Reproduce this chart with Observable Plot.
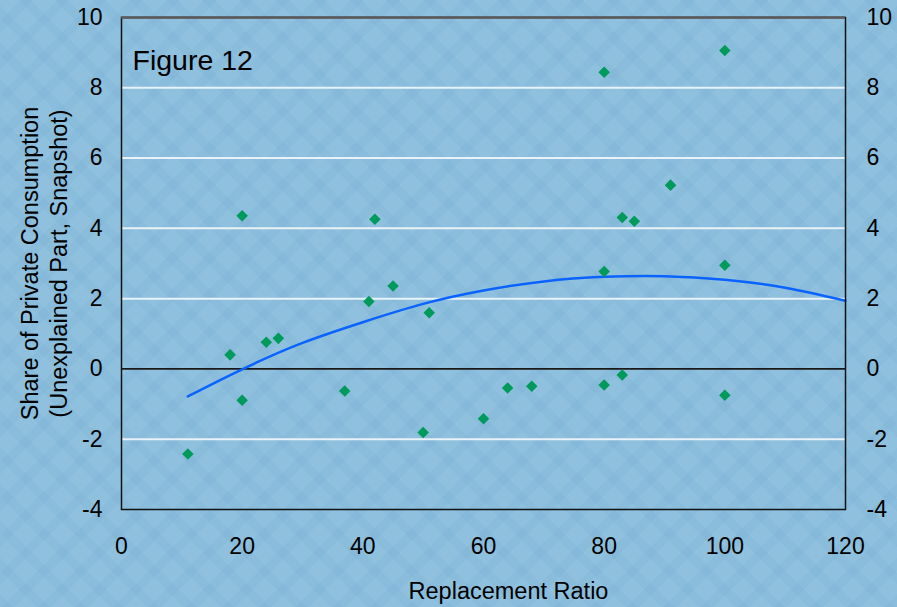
<!DOCTYPE html>
<html><head><meta charset="utf-8">
<script src="https://cdn.jsdelivr.net/npm/d3@7"></script>
<script src="https://cdn.jsdelivr.net/npm/@observablehq/plot@0.6"></script>
<style>
html,body{margin:0;padding:0;}
body{width:897px;height:607px;overflow:hidden;background-color:#8fc1de;
background-image:
 repeating-linear-gradient(45deg, rgba(100,155,200,0.12) 0 9px, transparent 9px 26px),
 repeating-linear-gradient(-45deg, rgba(100,155,200,0.12) 0 9px, transparent 9px 26px);}
#chart svg{display:block;}
</style></head><body><div id="chart"></div>
<script>
const replacementRatio = [11,18,20,20,24,26,37,41,42,45,50,51,60,64,68,80,80,80,83,83,85,91,100,100,100];
const consumptionShare = [-2.42,0.40,4.36,-0.89,0.76,0.87,-0.63,1.92,4.26,2.36,-1.81,1.60,-1.42,-0.54,-0.49,8.44,2.77,-0.46,4.31,-0.17,4.20,5.23,9.06,2.95,-0.75];
// trendline
const trendX = [11,20,30,40,50,60,70,80,90,100,110,120];
const trendY = [-0.78,-0.01,0.74,1.33,1.85,2.23,2.49,2.62,2.64,2.54,2.31,1.94];
const xTicks = [0,20,40,60,80,100,120];
const yTicks = [-4,-2,0,2,4,6,8,10];
const gridValues = [-2,2,4,6,8];
const figureTitle = "Figure 12";
const xLabel = "Replacement Ratio";
const yLabel = "Share of Private Consumption\n(Unexplained Part, Snapshot)";

const points = replacementRatio.map((x, i) => ({x, y: consumptionShare[i]}));
const trend = trendX.map((x, i) => ({x, y: trendY[i]}));
const fmt = d => String(d);

const chart = Plot.plot({
  width: 897,
  height: 607,
  marginLeft: 121,
  marginRight: 52,
  marginTop: 17,
  marginBottom: 98,
  style: {background: "transparent", fontFamily: "'Liberation Sans', Arial, sans-serif", color: "black", overflow: "visible"},
  x: {domain: [0, 120]},
  y: {domain: [-4, 10]},
  marks: [
    Plot.ruleY(gridValues, {stroke: "#e8f2f8", strokeWidth: 2}),
    Plot.ruleY([0], {stroke: "#1a1a1a", strokeWidth: 1.8}),
    Plot.line(trend, {x: "x", y: "y", stroke: "#0a62ff", strokeWidth: 2.5, curve: "natural"}),
    Plot.dot(points, {x: "x", y: "y", symbol: "diamond2", r: 5.2, fill: "#009a5c", stroke: "none"}),
    Plot.frame({stroke: "#111", strokeWidth: 1.5}),
    Plot.ruleY([10], {stroke: "#5a5a5a", strokeWidth: 2.5}),
    Plot.axisX(xTicks, {tickSize: 0, tickPadding: 28, fontSize: 23, label: null, tickFormat: fmt}),
    Plot.axisY(yTicks, {anchor: "left", tickSize: 0, tickPadding: 19, fontSize: 23, label: null, tickFormat: fmt}),
    Plot.axisY(yTicks, {anchor: "right", tickSize: 0, tickPadding: 21, fontSize: 23, label: null, tickFormat: fmt}),
    Plot.text([figureTitle], {frameAnchor: "top-left", dx: 11, dy: 32, lineAnchor: "top", textAnchor: "start", fontSize: 28.5, fill: "black"}),
    Plot.text([xLabel], {frameAnchor: "bottom", dx: 25, dy: 73, lineAnchor: "top", textAnchor: "middle", fontSize: 23.5, fill: "black"}),
    Plot.text([yLabel], {frameAnchor: "left", dx: -78, rotate: -90, textAnchor: "middle", lineAnchor: "middle", lineHeight: 1.22, fontSize: 23.5, fill: "black"})
  ]
});
document.getElementById("chart").appendChild(chart);
</script>
</body></html>
